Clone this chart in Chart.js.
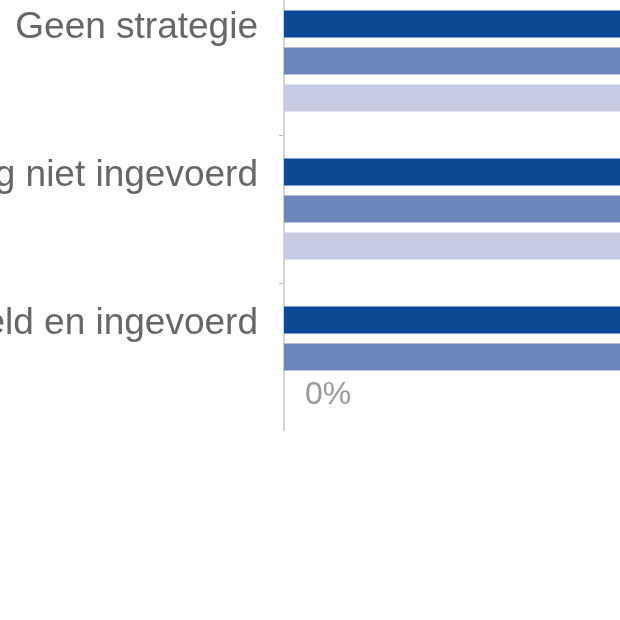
<!DOCTYPE html>
<html>
<head>
<meta charset="utf-8">
<script src="https://cdn.jsdelivr.net/npm/chart.js@4"></script>
<style>
  html, body { margin: 0; padding: 0; background: #fff; overflow: hidden; }
  #frame { position: relative; width: 620px; height: 620px; overflow: hidden; }
  #chart { position: absolute; left: -380px; top: -13px; }
</style>
</head>
<body>
<div id="frame">
  <canvas id="chart" width="1700" height="444"></canvas>
</div>
<script>
// Categories (the left part of the labels is cut off in the picture)
const categories = [
  "Geen strategie",
  "Strategie ontwikkeld maar nog niet ingevoerd",
  "Strategie ontwikkeld en ingevoerd",
];

// Series values in % (bars run past the right edge; only the 0 is readable)
const seriesNames = ["Reeks 1", "Reeks 2", "Reeks 3"];
const serie1 = [46, 31, 27];
const serie2 = [42, 34, 29];
const serie3 = [38, 36, 0];

const colors = ["#0c4894", "#6c86bb", "#c6cbe3"];
const FONT = "'Liberation Sans', Arial, sans-serif";

// Draws "x%" just after each bar end
const valueLabels = {
  id: "valueLabels",
  afterDatasetsDraw(chart) {
    const ctx = chart.ctx;
    ctx.save();
    ctx.font = "32px " + FONT;
    ctx.fillStyle = "#9a9a9a";
    ctx.textAlign = "left";
    ctx.textBaseline = "middle";
    chart.data.datasets.forEach((ds, i) => {
      chart.getDatasetMeta(i).data.forEach((bar, j) => {
        ctx.fillText(ds.data[j] + "%", bar.x + 21, bar.y + 1);
      });
    });
    ctx.restore();
  },
};

new Chart(document.getElementById("chart"), {
  type: "bar",
  data: {
    labels: categories,
    datasets: [serie1, serie2, serie3].map((d, i) => ({
      label: seriesNames[i],
      data: d,
      backgroundColor: colors[i],
      borderWidth: 0,
      categoryPercentage: 0.75,
      barPercentage: 0.73,
    })),
  },
  options: {
    indexAxis: "y",
    responsive: false,
    animation: false,
    devicePixelRatio: 1,
    layout: { padding: 0 },
    plugins: {
      legend: { display: false },
      title: { display: false },
      tooltip: { enabled: false },
    },
    scales: {
      x: {
        display: false,
        min: 0,
        max: 62,
      },
      y: {
        afterFit(scale) {
          scale.width = 664;
          scale.paddingTop = 0;
          scale.paddingBottom = 0;
        },
        border: { display: true, color: "#d4d4d4", width: 2 },
        grid: {
          offset: true,
          drawOnChartArea: false,
          drawTicks: true,
          tickLength: 5,
          color: "#b8b8b8",
        },
        ticks: {
          padding: 21,
          labelOffset: -33,
          color: "#676767",
          font: { family: FONT, size: 37 },
        },
      },
    },
  },
  plugins: [valueLabels],
});
</script>
</body>
</html>
